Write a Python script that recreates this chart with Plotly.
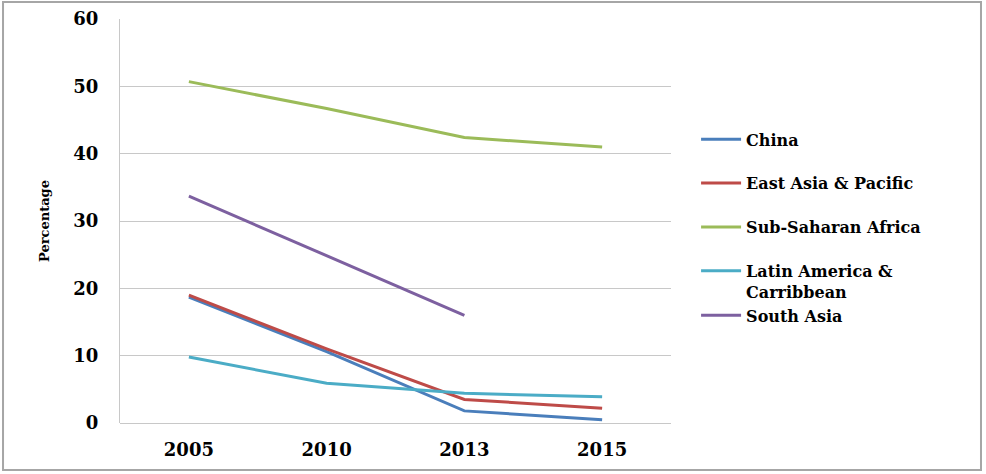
import plotly.graph_objects as go

years = ["2005", "2010", "2013", "2015"]
china = [18.7, 10.6, 1.8, 0.5]
east_asia = [19.0, 11.0, 3.5, 2.2]
ssa = [50.7, 46.7, 42.4, 41.0]
latin = [9.8, 5.9, 4.4, 3.9]
south_asia = [33.7, 24.9, 16.0, None]

series = [
    ("China", china, "#4A7EBB", "g1"),
    ("East Asia & Pacific", east_asia, "#BE4B48", "g2"),
    ("Sub-Saharan Africa", ssa, "#9BBB59", "g3"),
    ("Latin America &<br>Carribbean", latin, "#4BACC6", "g4"),
    ("South Asia", south_asia, "#7D60A0", "g4"),
]

fig = go.Figure()
for name, vals, color, grp in series:
    fig.add_trace(go.Scatter(
        x=years, y=vals, name=name, mode="lines",
        line=dict(color=color, width=3), legendgroup=grp,
        connectgaps=False,
    ))

serif = "DejaVu Serif"
fig.update_layout(
    width=986, height=474,
    margin=dict(l=120, r=315, t=19, b=51, autoexpand=False),
    plot_bgcolor="white", paper_bgcolor="white",
    font=dict(family=serif, color="black"),
    showlegend=True,
    legend=dict(
        x=1.0455, y=0.744, xanchor="left", yanchor="top",
        font=dict(family=serif, size=16, color="black", weight="bold"),
        tracegroupgap=20, valign="top", traceorder="grouped",
        itemwidth=40,
    ),
    xaxis=dict(
        type="category", range=[-0.5, 3.5], automargin=False,
        showgrid=False, showline=False, zeroline=False,
        ticks="", ticklabelstandoff=14,
        tickfont=dict(family=serif, size=18, weight="bold", color="black"),
    ),
    yaxis=dict(
        range=[0, 60], dtick=10, automargin=False,
        showgrid=True, gridcolor="#C8C8C8", gridwidth=1,
        zeroline=True, zerolinecolor="#C8C8C8", zerolinewidth=1,
        showline=True, linecolor="#C8C8C8", linewidth=1,
        ticks="", ticklabelstandoff=17,
        tickfont=dict(family=serif, size=18, weight="bold", color="black"),
        title=dict(text="Percentage", standoff=20,
                   font=dict(family=serif, size=13, weight="bold", color="black")),
    ),
    shapes=[dict(
        type="rect", xref="paper", yref="paper",
        x0=-0.2123, x1=1.5626, y0=-0.1163, y1=1.042,
        line=dict(color="#A6A6A6", width=2), fillcolor="rgba(0,0,0,0)",
        layer="below",
    )],
)

fig.write_html("out.html", config={"displayModeBar": False},
               post_script="document.body.style.margin='0';")
